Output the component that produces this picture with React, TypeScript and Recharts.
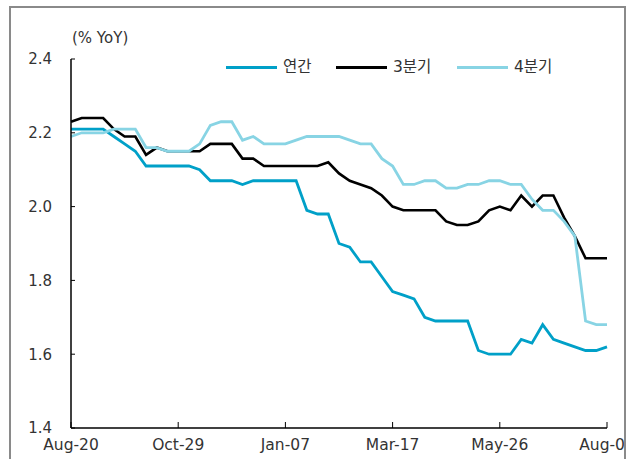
import React from 'react';
import { LineChart, Line, XAxis, YAxis } from 'recharts';

const DATES = [
  'Aug-20', 'Aug-27', 'Sep-03', 'Sep-10', 'Sep-17', 'Sep-24', 'Oct-01', 'Oct-08', 'Oct-15', 'Oct-22',
  'Oct-29', 'Nov-05', 'Nov-12', 'Nov-19', 'Nov-26', 'Dec-03', 'Dec-10', 'Dec-17', 'Dec-24', 'Dec-31',
  'Jan-07', 'Jan-14', 'Jan-21', 'Jan-28', 'Feb-04', 'Feb-11', 'Feb-18', 'Feb-25', 'Mar-03', 'Mar-10',
  'Mar-17', 'Mar-24', 'Mar-31', 'Apr-07', 'Apr-14', 'Apr-21', 'Apr-28', 'May-05', 'May-12', 'May-19',
  'May-26', 'Jun-02', 'Jun-09', 'Jun-16', 'Jun-23', 'Jun-30', 'Jul-07', 'Jul-14', 'Jul-21', 'Jul-28',
  'Aug-04',
];

const ANNUAL = [
  2.21, 2.21, 2.21, 2.21, 2.19, 2.17, 2.15, 2.11, 2.11, 2.11,
  2.11, 2.11, 2.10, 2.07, 2.07, 2.07, 2.06, 2.07, 2.07, 2.07,
  2.07, 2.07, 1.99, 1.98, 1.98, 1.90, 1.89, 1.85, 1.85, 1.81,
  1.77, 1.76, 1.75, 1.70, 1.69, 1.69, 1.69, 1.69, 1.61, 1.60,
  1.60, 1.60, 1.64, 1.63, 1.68, 1.64, 1.63, 1.62, 1.61, 1.61,
  1.62,
];

const Q3 = [
  2.23, 2.24, 2.24, 2.24, 2.21, 2.19, 2.19, 2.14, 2.16, 2.15,
  2.15, 2.15, 2.15, 2.17, 2.17, 2.17, 2.13, 2.13, 2.11, 2.11,
  2.11, 2.11, 2.11, 2.11, 2.12, 2.09, 2.07, 2.06, 2.05, 2.03,
  2.00, 1.99, 1.99, 1.99, 1.99, 1.96, 1.95, 1.95, 1.96, 1.99,
  2.00, 1.99, 2.03, 2.00, 2.03, 2.03, 1.97, 1.92, 1.86, 1.86,
  1.86,
];

const Q4 = [
  2.19, 2.20, 2.20, 2.20, 2.21, 2.21, 2.21, 2.16, 2.16, 2.15,
  2.15, 2.15, 2.17, 2.22, 2.23, 2.23, 2.18, 2.19, 2.17, 2.17,
  2.17, 2.18, 2.19, 2.19, 2.19, 2.19, 2.18, 2.17, 2.17, 2.13,
  2.11, 2.06, 2.06, 2.07, 2.07, 2.05, 2.05, 2.06, 2.06, 2.07,
  2.07, 2.06, 2.06, 2.02, 1.99, 1.99, 1.96, 1.92, 1.69, 1.68,
  1.68,
];

const X_TICKS = ['Aug-20', 'Oct-29', 'Jan-07', 'Mar-17', 'May-26', 'Aug-04'];
const Y_TICKS = [1.4, 1.6, 1.8, 2.0, 2.2, 2.4];
const Y_TITLE = '(% YoY)';

const SERIES = [
  { key: 'annual', name: '연간', color: '#00a0c8', width: 2.8 },
  { key: 'q3', name: '3분기', color: '#000000', width: 2.6 },
  { key: 'q4', name: '4분기', color: '#88d4e4', width: 2.8 },
];

const LEGEND_LEFT = [226, 336, 457];

const data = DATES.map((d, i) => ({ date: d, annual: ANNUAL[i], q3: Q3[i], q4: Q4[i] }));

const FONT = "'DejaVu Sans', 'Noto Sans CJK KR', sans-serif";
const TEXT = '#333333';

const XTick = (props: any) => {
  const { x, y, payload } = props;
  return (
    <g>
      <line x1={x} y1={y} x2={x} y2={y - 6} stroke="#000" strokeWidth={1} />
      <text x={x} y={y + 22} textAnchor="middle" fontSize={15.5} fill={TEXT} fontFamily={FONT}>
        {payload.value}
      </text>
    </g>
  );
};

const YTick = (props: any) => {
  const { x, y, payload } = props;
  return (
    <g>
      <line x1={x} y1={y} x2={x + 4} y2={y} stroke="#000" strokeWidth={1} />
      <text x={x - 19} y={y} dy="0.36em" textAnchor="end" fontSize={15} fill={TEXT} fontFamily={FONT}>
        {Number(payload.value).toFixed(1)}
      </text>
    </g>
  );
};

export default function App() {
  return (
    <div style={{ position: 'absolute', left: 0, top: 0, width: 638, height: 459, background: '#fff', overflow: 'hidden', fontFamily: FONT }}>
      <div style={{ position: 'absolute', left: 0, top: 0, width: 624, height: 459, overflow: 'hidden' }}>
        <LineChart
          width={624}
          height={459}
          data={data}
          margin={{ top: 59, right: 17, bottom: 1, left: 0 }}
        >
          <XAxis
            dataKey="date"
            ticks={X_TICKS}
            interval={0}
            tickSize={0}
            tickMargin={0}
            tickLine={false}
            axisLine={{ stroke: '#000', strokeWidth: 1.5 }}
            tick={<XTick />}
            height={30}
          />
          <YAxis
            domain={[1.4, 2.4]}
            ticks={Y_TICKS}
            interval={0}
            tickSize={0}
            tickMargin={0}
            tickLine={false}
            axisLine={{ stroke: '#000', strokeWidth: 1.5 }}
            tick={<YTick />}
            width={71}
            allowDataOverflow
          />
          {SERIES.map((s) => (
            <Line
              key={s.key}
              type="linear"
              dataKey={s.key}
              name={s.name}
              stroke={s.color}
              strokeWidth={s.width}
              dot={false}
              activeDot={false}
              isAnimationActive={false}
            />
          ))}
        </LineChart>
      </div>
      <div style={{ position: 'absolute', left: 72, top: 31, fontSize: 15, lineHeight: '15px', color: TEXT, whiteSpace: 'nowrap' }}>
        {Y_TITLE}
      </div>
      {SERIES.map((s, i) => (
        <div
          key={s.key}
          style={{ position: 'absolute', left: LEGEND_LEFT[i], top: 57, height: 20, display: 'flex', alignItems: 'center', whiteSpace: 'nowrap' }}
        >
          <span style={{ display: 'inline-block', width: 51, height: 3, background: s.color }} />
          <span style={{ marginLeft: 6, fontSize: 15.5, color: TEXT, lineHeight: '20px' }}>{s.name}</span>
        </div>
      ))}
      <div
        style={{
          position: 'absolute', left: 9, top: 6, width: 617, height: 470, boxSizing: 'border-box',
          border: '2px solid #8a8a8a', borderBottom: 'none', pointerEvents: 'none',
        }}
      />
    </div>
  );
}
